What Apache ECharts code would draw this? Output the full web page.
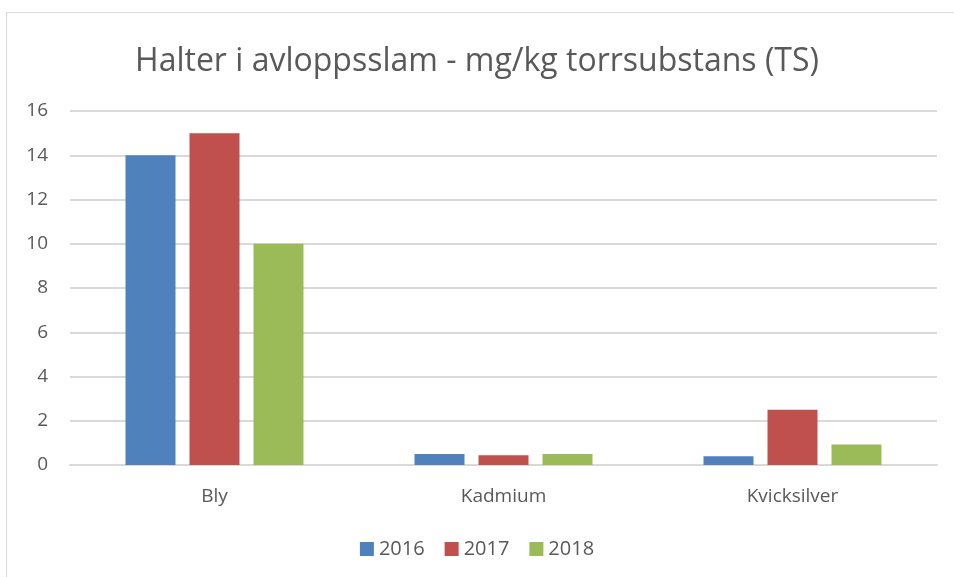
<!DOCTYPE html>
<html>
<head>
<meta charset="utf-8">
<script src="https://cdn.jsdelivr.net/npm/echarts@6/dist/echarts.min.js"></script>
<style>
  html, body { margin: 0; padding: 0; background: #fff; }
  #frame { position: absolute; left: 6px; top: 12px; width: 960px; height: 580px; border: 1px solid #d9d9d9; }
  #chart { position: absolute; left: 0; top: 0; width: 954px; height: 577px; }
</style>
</head>
<body>
<div id="frame"></div>
<div id="chart"></div>
<script>
var categories = ['Bly', 'Kadmium', 'Kvicksilver'];
var years = ['2016', '2017', '2018'];
var values2016 = [14, 0.5, 0.4];
var values2017 = [15, 0.44, 2.5];
var values2018 = [10, 0.5, 0.93];
var yTicks = [0, 2, 4, 6, 8, 10, 12, 14, 16];

var chartDom = document.getElementById('chart');
var myChart = echarts.init(chartDom);
var font = '"Open Sans", "Liberation Sans", sans-serif';
var colors = ['#4F81BD', '#C0504D', '#9BBB59'];

var option = {
  color: colors,
  textStyle: { fontFamily: font },
  title: {
    text: 'Halter i avloppsslam - mg/kg torrsubstans (TS)',
    left: 'center',
    top: 41,
    textStyle: { fontFamily: font, fontSize: 32, fontWeight: 'normal', color: '#595959' }
  },
  legend: {
    data: years,
    bottom: 13,
    left: 'center',
    icon: 'rect',
    itemWidth: 14,
    itemHeight: 14,
    itemGap: 20,
    textStyle: { fontFamily: font, fontSize: 20, color: '#595959' }
  },
  grid: { left: 70, right: 17, top: 111, bottom: 112 },
  xAxis: {
    type: 'category',
    data: categories,
    axisLine: { lineStyle: { color: '#d9d9d9', width: 2 } },
    axisTick: { show: false },
    axisLabel: { fontFamily: font, fontSize: 19, color: '#595959', margin: 22 }
  },
  yAxis: {
    type: 'value',
    min: yTicks[0],
    max: yTicks[yTicks.length - 1],
    interval: 2,
    axisLine: { show: false },
    axisTick: { show: false },
    splitLine: { lineStyle: { color: '#d9d9d9', width: 2 } },
    axisLabel: { fontFamily: font, fontSize: 19, color: '#595959', margin: 22 }
  },
  series: [
    { name: years[0], type: 'bar', data: values2016, barWidth: 50, barGap: '28%' },
    { name: years[1], type: 'bar', data: values2017, barWidth: 50, barGap: '28%' },
    { name: years[2], type: 'bar', data: values2018, barWidth: 50, barGap: '28%' }
  ]
};
option && myChart.setOption(option);
</script>
</body>
</html>
